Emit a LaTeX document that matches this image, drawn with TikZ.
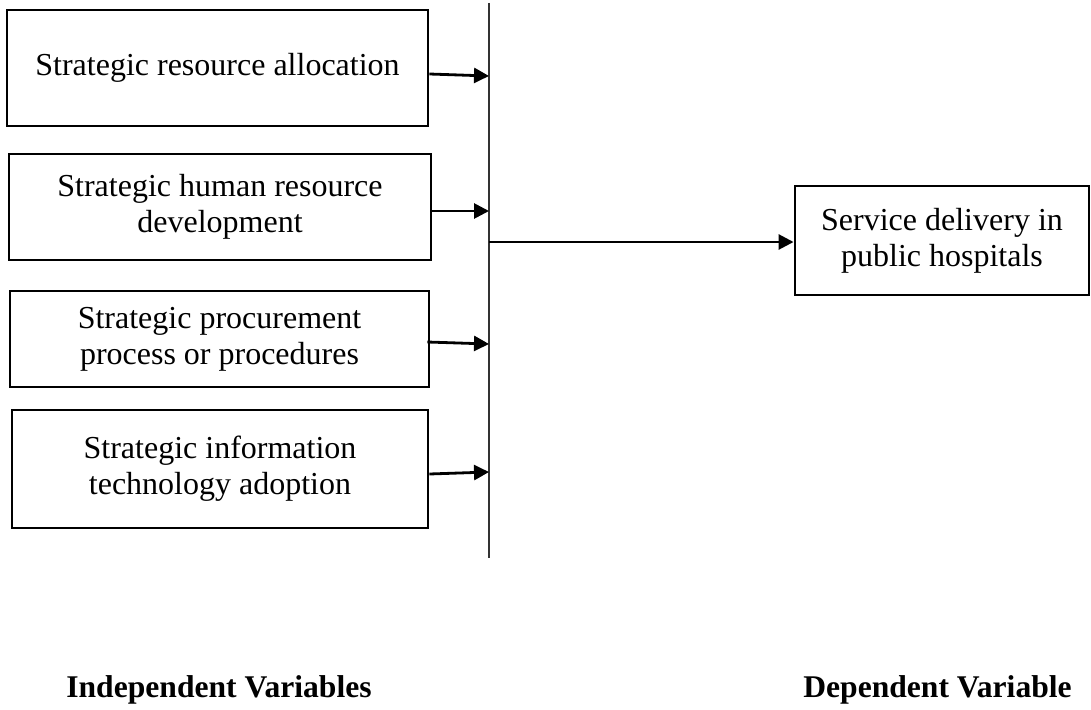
\documentclass[tikz,border=0pt]{standalone}
\usepackage{fontspec}
\setmainfont{Liberation Serif}
\usetikzlibrary{arrows.meta,calc}
\begin{document}
\begin{tikzpicture}[x=1pt,y=-1pt,
  varbox/.style={draw=black, line width=2.9pt, inner sep=0pt, align=center,
    font=\fontsize{32}{36}\selectfont},
  feed/.style={line width=2.8pt, -{Triangle[length=15pt,width=15pt]}},
  axisline/.style={line width=1.5pt, draw=black!80},
  heading/.style={anchor=base, inner sep=0pt, font=\fontsize{31.6}{36}\selectfont\bfseries}]
\useasboundingbox (0,0) rectangle (1091,709);

% independent variables
\node[varbox, minimum width=421pt, minimum height=116pt] (alloc) at (217.5,68)
  {Strategic resource allocation};
\node[varbox, minimum width=422pt, minimum height=106pt] (hrd) at (220,207)
  {Strategic human resource\\development};
\node[varbox, minimum width=419pt, minimum height=96pt] (proc) at (219.5,339)
  {Strategic procurement\\process or procedures};
\node[varbox, minimum width=416pt, minimum height=118pt] (ict) at (220,469)
  {Strategic information\\technology adoption};

% dependent variable
\node[varbox, minimum width=294pt, minimum height=109pt] (service) at (942,240.5)
  {Service delivery in\\public hospitals};

% collecting line
\coordinate (vtop) at (489,3);
\coordinate (vbot) at (489,558);
\draw[axisline] (vtop) -- (vbot);

\coordinate (in1) at (489,76);
\coordinate (in2) at (489,211);
\coordinate (in3) at (489,344);
\coordinate (in4) at (489,472);
\coordinate (hub) at (489,242);

\draw[feed] ($(alloc.east)+(0,6)$) -- (in1);
\draw[feed] ($(hrd.east)+(0,4)$) -- (in2);
\draw[feed] ($(proc.east)+(-3,3)$) -- (in3);
\draw[feed] ($(ict.east)+(0,5)$) -- (in4);
\draw[feed] (hub) -- (service.west |- hub);

% headings
\node[heading] (indep) at (219,697) {Independent Variables};
\node[heading] (dep) at (937.5,697) {Dependent Variable};
\end{tikzpicture}
\end{document}
